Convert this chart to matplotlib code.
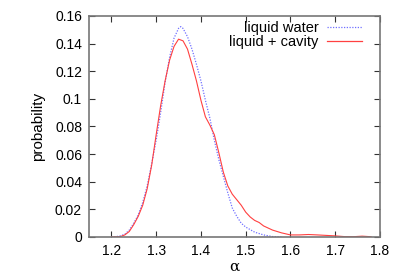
import numpy as np
import matplotlib.pyplot as plt

plt.rcParams['font.family'] = ['Liberation Sans', 'DejaVu Sans']

# alpha values and probabilities
alpha_water = [1.20, 1.21, 1.22, 1.23, 1.24, 1.25, 1.26, 1.27, 1.28, 1.29,
               1.30, 1.31, 1.32, 1.33, 1.34, 1.35, 1.355, 1.36, 1.37, 1.38,
               1.39, 1.40, 1.41, 1.42, 1.43, 1.44, 1.45, 1.46, 1.47, 1.48,
               1.49, 1.50, 1.52, 1.54, 1.56, 1.58]
prob_water = [0.0, 0.0002, 0.0008, 0.002, 0.005, 0.010, 0.016, 0.025, 0.037, 0.053,
              0.070, 0.090, 0.112, 0.130, 0.144, 0.151, 0.1523, 0.151, 0.145, 0.136,
              0.125, 0.113, 0.099, 0.086, 0.070, 0.056, 0.044, 0.032, 0.021, 0.015,
              0.010, 0.0072, 0.0035, 0.0015, 0.0003, 0.0]

alpha_cavity = [1.20, 1.22, 1.23, 1.24, 1.25, 1.26, 1.27, 1.28, 1.29, 1.30,
                1.31, 1.32, 1.33, 1.34, 1.35, 1.36, 1.37, 1.38, 1.39, 1.40,
                1.41, 1.42, 1.43, 1.44, 1.45, 1.46, 1.47, 1.48, 1.49, 1.50,
                1.51, 1.52, 1.53, 1.54, 1.55, 1.56, 1.58, 1.60, 1.62, 1.64,
                1.66, 1.70, 1.72, 1.74, 1.76, 1.78]
prob_cavity = [0.0, 0.0003, 0.0015, 0.004, 0.009, 0.015, 0.023, 0.035, 0.052, 0.074,
               0.095, 0.113, 0.128, 0.138, 0.1432, 0.142, 0.136, 0.125, 0.113, 0.099,
               0.087, 0.081, 0.074, 0.061, 0.047, 0.037, 0.031, 0.027, 0.023, 0.018,
               0.0145, 0.012, 0.0105, 0.008, 0.0065, 0.005, 0.003, 0.0015, 0.0015, 0.0018,
               0.0015, 0.0008, 0.0003, 0.0002, 0.0006, 0.0002]

xticks = [1.2, 1.3, 1.4, 1.5, 1.6, 1.7, 1.8]
yticks = [0, 0.02, 0.04, 0.06, 0.08, 0.1, 0.12, 0.14, 0.16]
ytick_labels = ['0', '0.02', '0.04', '0.06', '0.08', '0.1', '0.12', '0.14', '0.16']

fig = plt.figure(figsize=(4, 2.8), dpi=100)
ax = fig.add_axes([0.2225, 0.1536, 0.7275, 0.7894])

ax.plot(alpha_water, prob_water, color='#7070ff', linestyle=(0, (1, 1.2)), lw=0.9,
        label='liquid water')
ax.plot(alpha_cavity, prob_cavity, color='#ff4040', lw=0.8, label='liquid + cavity')

ax.set_xlim(1.15, 1.8)
ax.set_ylim(0, 0.16)
ax.set_xticks(xticks)
ax.set_xticklabels([str(t) for t in xticks])
ax.set_yticks(yticks)
ax.set_yticklabels(ytick_labels)
ax.tick_params(direction='in', top=True, right=True, labelsize=10, length=4,
               width=0.8, color='#333333', pad=5)
for s in ax.spines.values():
    s.set_color('#777777')
    s.set_linewidth(1.2)

ax.set_xlabel('α', fontsize=11, family='DejaVu Serif', labelpad=1)
ax.set_ylabel('probability', fontsize=11, labelpad=7)

leg = ax.legend(loc='upper right', frameon=False, fontsize=10.5, markerfirst=False,
                handlelength=2.4, borderaxespad=0.1, borderpad=0.25, labelspacing=0.0,
                handletextpad=0.6)
for t in leg.get_texts():
    t.set_ha('right')
for h, c in zip(leg.legend_handles, ['#7070ff', '#ff4040']):
    h.set_linewidth(0.9)
    h.set_color(c)
leg._legend_box.align = 'right'
leg.set_bbox_to_anchor((0.957, 1.0), transform=ax.transAxes)

fig.savefig('out.png', dpi=100)
